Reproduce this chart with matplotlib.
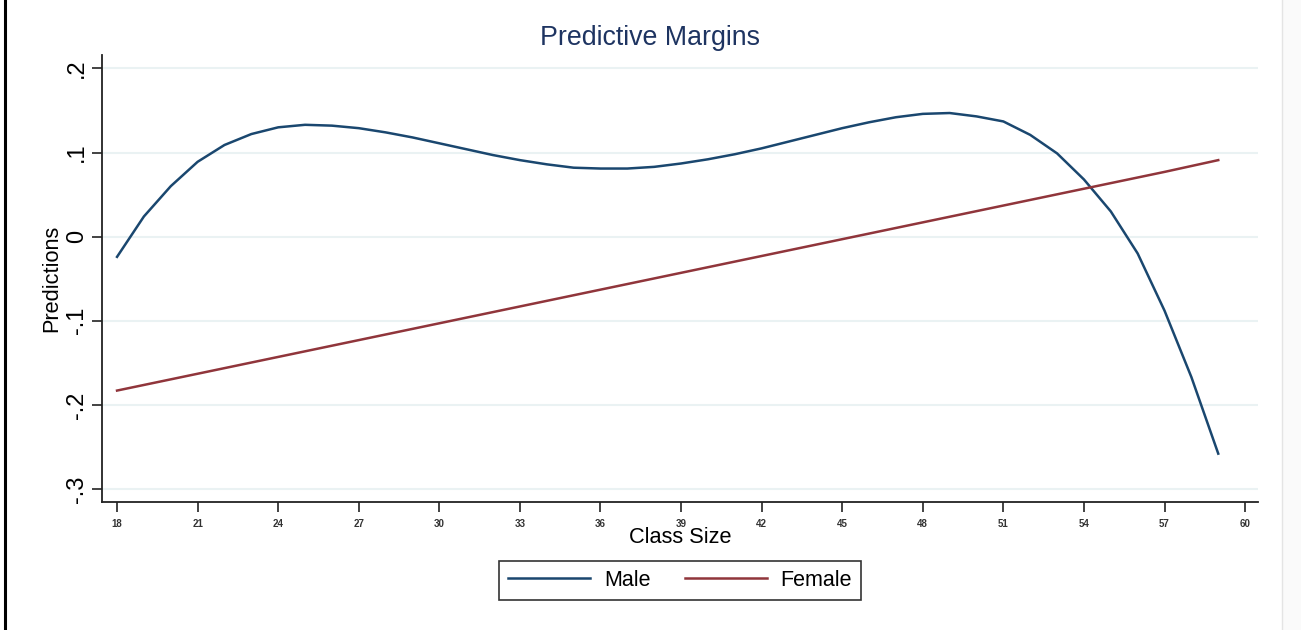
import matplotlib
matplotlib.use("Agg")
import matplotlib.pyplot as plt
from matplotlib.lines import Line2D
from matplotlib.patches import Rectangle

plt.rcParams['font.family'] = ['Liberation Sans', 'DejaVu Sans']

class_size = list(range(18, 60))
male = [-0.024, 0.024, 0.060, 0.089, 0.109, 0.122, 0.130, 0.133, 0.132, 0.129,
        0.124, 0.118, 0.111, 0.104, 0.097, 0.091, 0.086, 0.082, 0.081, 0.081,
        0.083, 0.087, 0.092, 0.098, 0.105, 0.113, 0.121, 0.129, 0.136, 0.142,
        0.146, 0.147, 0.143, 0.137, 0.121, 0.099, 0.068, 0.030, -0.020, -0.088,
        -0.167, -0.258]
female_x = [18, 21, 24, 27, 30, 33, 36, 39, 42, 45, 48, 51, 54, 57, 59]
female = [-0.183, -0.163, -0.143, -0.123, -0.103, -0.083, -0.063, -0.043,
          -0.023, -0.003, 0.017, 0.037, 0.057, 0.077, 0.091]
xticks = list(range(18, 61, 3))
yticks = [0.2, 0.1, 0.0, -0.1, -0.2, -0.3]
ytick_labels = ['.2', '.1', '0', '-.1', '-.2', '-.3']

W, H = 1301, 630
fig = plt.figure(figsize=(W / 100, H / 100), dpi=100)
ax = fig.add_axes([102 / W, 1 - 502 / H, (1258 - 102) / W, (502 - 55) / H])

for y in yticks:
    ax.axhline(y, color='#eaf2f3', lw=1.5, zorder=0)

ax.plot(class_size, male, color='#1a476f', lw=1.8, label='Male')
ax.plot(female_x, female, color='#90353b', lw=1.8, label='Female')

ax.set_xlim(17.44, 60.48)
ax.set_ylim(-0.3155, 0.216)
ax.set_xticks(xticks)
ax.set_xticklabels([str(t) for t in xticks], fontsize=7, color='#333333',
                   fontweight='bold')
ax.set_yticks(yticks)
ax.set_yticklabels(ytick_labels, fontsize=17, rotation=90, va='center')
ax.tick_params(axis='both', direction='out', length=7, width=1.2, color='#222222')
ax.tick_params(axis='x', pad=5)
ax.tick_params(axis='y', pad=3)

for s in ['top', 'right']:
    ax.spines[s].set_visible(False)
for s in ['left', 'bottom']:
    ax.spines[s].set_linewidth(1.3)
    ax.spines[s].set_color('#222222')

fig.text(0.5, 1 - 45 / H, 'Predictive Margins', fontsize=19.3, color='#1e3461',
         ha='center', va='baseline')
fig.text(680 / W, 1 - 543 / H, 'Class Size', fontsize=15.7, ha='center',
         va='baseline')
fig.text(62 / W, 1 - 278 / H, 'Predictions', fontsize=15.7, rotation=90,
         ha='right', va='center')

leg = fig.legend(loc='center', bbox_to_anchor=(680 / W, 1 - 580.5 / H), ncol=2,
                 fontsize=15.5, frameon=True, fancybox=False, handlelength=3.8,
                 handletextpad=0.65, columnspacing=1.6, borderpad=0.4)
leg.get_frame().set_edgecolor('black')
leg.get_frame().set_linewidth(1.2)

# outer decorations
fig.add_artist(Line2D([4.5 / W, 4.5 / W], [0, 1], color='black', lw=2.2))
fig.add_artist(Rectangle((1282 / W, 0), (W - 1282) / W, 1, facecolor='#fafafa',
                         edgecolor='none'))
fig.add_artist(Line2D([1282 / W, 1282 / W], [0, 1], color='#e4e4e4', lw=1))

fig.savefig('out.png', dpi=100)
